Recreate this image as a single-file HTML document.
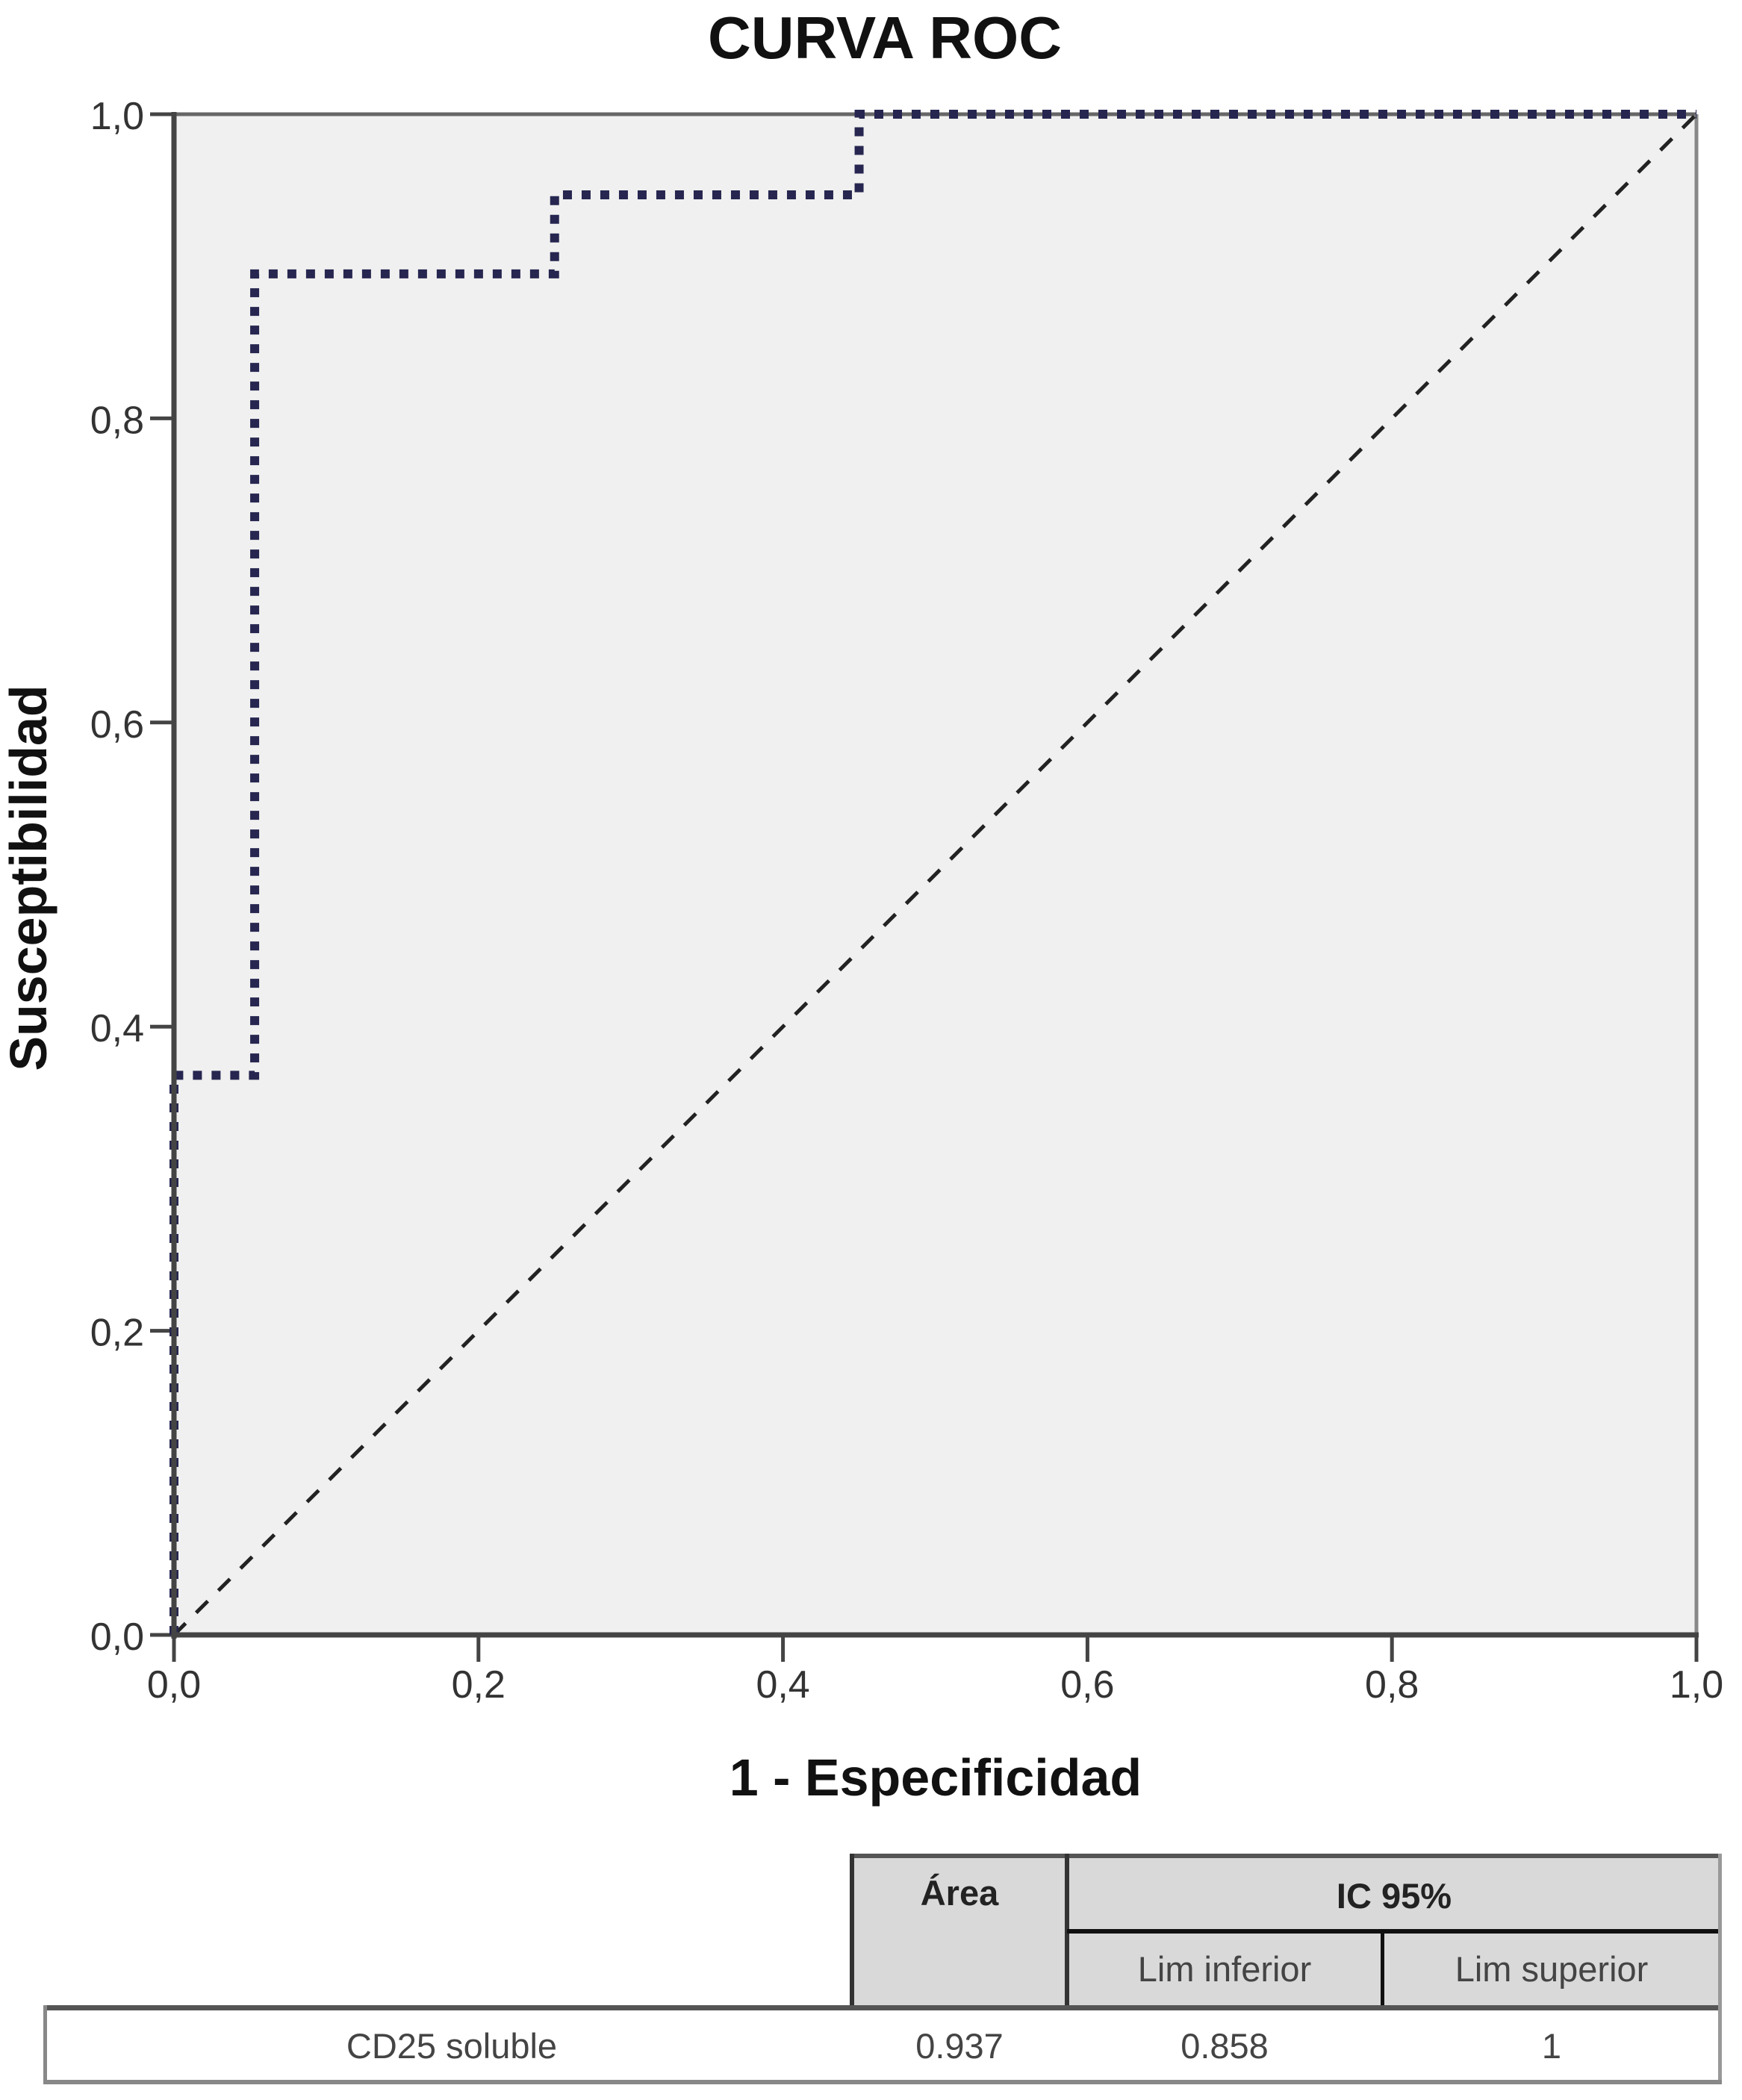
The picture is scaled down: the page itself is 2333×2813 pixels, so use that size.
<!DOCTYPE html>
<html><head><meta charset="utf-8"><style>
body{margin:0;background:#fff;}
svg{display:block;}
</style></head><body>
<svg width="2333" height="2813" viewBox="0 0 2333 2813" xmlns="http://www.w3.org/2000/svg" font-family="Liberation Sans, sans-serif">
<text x="1185" y="78" text-anchor="middle" font-size="80" font-weight="bold" fill="#111">CURVA ROC</text>
<rect x="233" y="153" width="2039" height="2037" fill="#f0f0f0"/>
<line x1="233" y1="153" x2="2272" y2="153" stroke="#666" stroke-width="5"/>
<line x1="2272" y1="153" x2="2272" y2="2190" stroke="#888" stroke-width="5"/>
<g id="ticks"></g>
<g id="marks"></g>
<line x1="233" y1="150" x2="233" y2="2195" stroke="#444" stroke-width="7"/>
<line x1="230" y1="2190" x2="2275" y2="2190" stroke="#444" stroke-width="7"/>
<text x="1253" y="2405" text-anchor="middle" font-size="70" font-weight="bold" fill="#111">1 - Especificidad</text>
<text transform="translate(62,1176) rotate(-90)" text-anchor="middle" font-size="70" font-weight="bold" fill="#111">Susceptibilidad</text>

<g font-size="47" fill="#333">
<rect x="1141" y="2483" width="1165" height="205" fill="#d9d9d9"/>
<rect x="1141" y="2483" width="1165" height="6" fill="#555"/>
<rect x="1138" y="2483" width="6" height="205" fill="#333"/>
<rect x="1426" y="2483" width="6" height="205" fill="#333"/>
<rect x="1429" y="2584" width="877" height="6" fill="#111"/>
<rect x="1849" y="2584" width="5" height="104" fill="#111"/>
<rect x="58" y="2686" width="2248" height="7" fill="#555"/>
<rect x="58" y="2686" width="5" height="105" fill="#888"/>
<rect x="2301" y="2483" width="5" height="308" fill="#999"/>
<rect x="58" y="2786" width="2248" height="6" fill="#888"/>
<text x="1285" y="2552" text-anchor="middle" font-weight="bold" fill="#222">Área</text>
<text x="1867" y="2556" text-anchor="middle" font-weight="bold" fill="#222">IC 95%</text>
<text x="1640" y="2654" text-anchor="middle" fill="#444">Lim inferior</text>
<text x="2078" y="2654" text-anchor="middle" fill="#444">Lim superior</text>
<text x="605" y="2757" text-anchor="middle" fill="#444">CD25 soluble</text>
<text x="1285" y="2757" text-anchor="middle" fill="#444">0.937</text>
<text x="1640" y="2757" text-anchor="middle" fill="#444">0.858</text>
<text x="2078" y="2757" text-anchor="middle" fill="#444">1</text>
</g>
</svg>
<script>
const rocFpr = [0, 0, 0.053, 0.053, 0.25, 0.25, 0.45, 0.45, 1];
const rocTpr = [0, 0.368, 0.368, 0.895, 0.895, 0.947, 0.947, 1, 1];
const refX = [0, 1];
const refY = [0, 1];
const tickValues = [0, 0.2, 0.4, 0.6, 0.8, 1.0];
const tickLabels = ["0,0", "0,2", "0,4", "0,6", "0,8", "1,0"];
const NS = "http://www.w3.org/2000/svg";
const X0 = 233, X1 = 2272, Y0 = 2190, Y1 = 153;
function sx(v){ return X0 + v * (X1 - X0); }
function sy(v){ return Y0 - v * (Y0 - Y1); }
const ticks = document.getElementById('ticks');
const marks = document.getElementById('marks');
tickValues.forEach((v, i) => {
  const yt = document.createElementNS(NS, 'line');
  yt.setAttribute('x1', X0 - 32); yt.setAttribute('x2', X0);
  yt.setAttribute('y1', sy(v)); yt.setAttribute('y2', sy(v));
  yt.setAttribute('stroke', '#444'); yt.setAttribute('stroke-width', 5);
  
  
  ticks.appendChild(yt);
  const yl = document.createElementNS(NS, 'text');
  yl.setAttribute('x', X0 - 40); yl.setAttribute('y', sy(v) + 20);
  yl.setAttribute('text-anchor', 'end'); yl.setAttribute('font-size', 52);
  yl.setAttribute('fill', '#333');
  yl.textContent = tickLabels[i];
  
  
  ticks.appendChild(yl);
  const xt = document.createElementNS(NS, 'line');
  xt.setAttribute('x1', sx(v)); xt.setAttribute('x2', sx(v));
  xt.setAttribute('y1', Y0); xt.setAttribute('y2', Y0 + 36);
  xt.setAttribute('stroke', '#444'); xt.setAttribute('stroke-width', 5);
  
  
  ticks.appendChild(xt);
  const xl = document.createElementNS(NS, 'text');
  xl.setAttribute('x', sx(v)); xl.setAttribute('y', Y0 + 84);
  xl.setAttribute('text-anchor', 'middle'); xl.setAttribute('font-size', 52);
  xl.setAttribute('fill', '#333');
  xl.textContent = tickLabels[i];
  
  
  ticks.appendChild(xl);
});
const ref = document.createElementNS(NS, 'polyline');
ref.setAttribute('points', refX.map((x, i) => sx(x) + ',' + sy(refY[i])).join(' '));
ref.setAttribute('fill', 'none'); ref.setAttribute('stroke', '#222');
ref.setAttribute('stroke-width', 5); ref.setAttribute('stroke-dasharray', '22 20');


marks.appendChild(ref);
const roc = document.createElementNS(NS, 'polyline');
roc.setAttribute('points', rocFpr.map((x, i) => sx(x) + ',' + sy(rocTpr[i])).join(' '));
roc.setAttribute('fill', 'none'); roc.setAttribute('stroke', '#262650');
roc.setAttribute('stroke-width', 12); roc.setAttribute('stroke-dasharray', '12 13');


marks.appendChild(roc);
</script>
</body></html>
